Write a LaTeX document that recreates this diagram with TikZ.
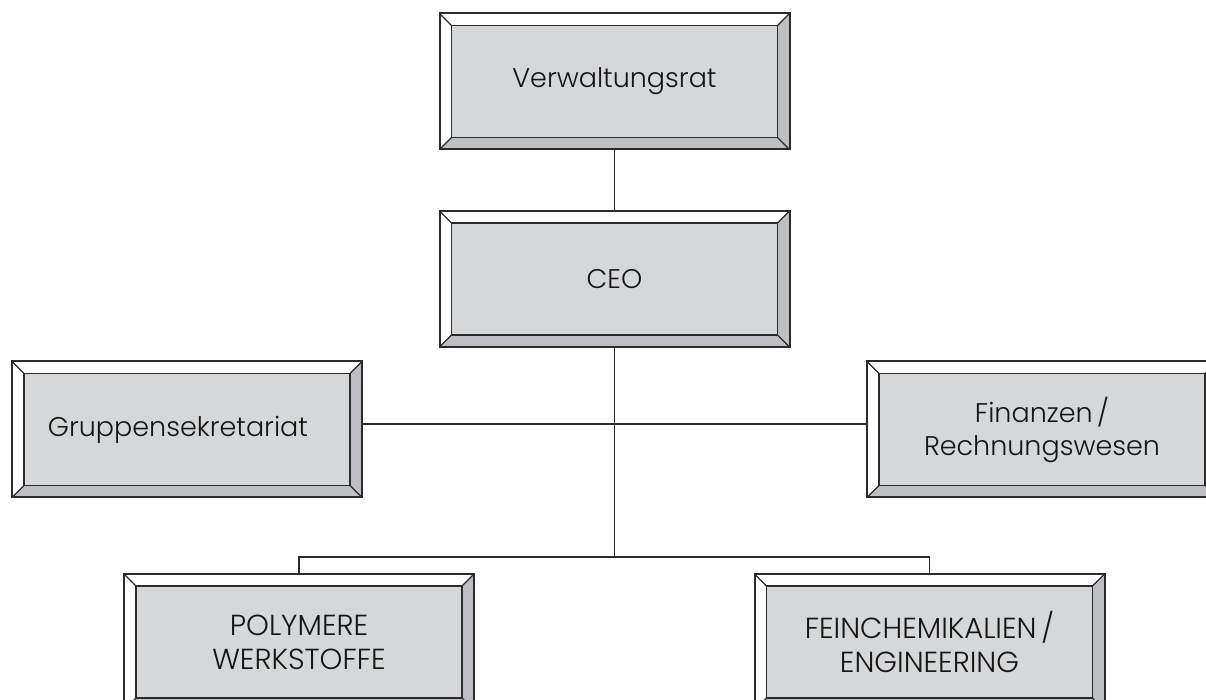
\documentclass[tikz,border=0pt]{standalone}
\usepackage{fontspec}
\setmainfont{Poppins}[UprightFont=* Light]
\definecolor{boxfill}{HTML}{D6D7D9}
\definecolor{bevdark}{HTML}{BEBFC2}
\definecolor{ink}{HTML}{2B2B2B}
\definecolor{txt}{HTML}{151515}
\tikzset{
  bevbox/.style={draw=ink, line width=2pt, fill=white,
    minimum width=350pt, minimum height=136pt, inner sep=0pt,
    align=center, font=\fontsize{27}{33}\selectfont, text=txt,
    path picture={
      \path (path picture bounding box.south west) coordinate (bsw)
            (path picture bounding box.north east) coordinate (bne)
            (bsw -| bne) coordinate (bse) (bsw |- bne) coordinate (bnw);
      \fill[bevdark] (bsw) -- (bse) -- (bne) -- ([shift={(-12,-12)}]bne)
        -- ([shift={(-12,12)}]bse) -- ([shift={(12,12)}]bsw) -- cycle;
      \draw[ink, line width=1.5pt, fill=boxfill]
        ([shift={(12,12)}]bsw) rectangle ([shift={(-12,-12)}]bne);
      \draw[ink, line width=1.2pt] (bsw) -- ++(12,12) (bse) -- ++(-12,12)
        (bne) -- ++(-12,-12) (bnw) -- ++(12,-12);
    }},
  capsbox/.style={bevbox, font=\fontsize{29}{34}\selectfont},
  conn/.style={draw=ink, line width=1.5pt}
}
\begin{document}
\begin{tikzpicture}[x=1pt,y=1pt]
\useasboundingbox (0,0) rectangle (1206,700);
\clip (0,0) rectangle (1206,700);
\node[bevbox] (vr) at (614.5,618.5) {Verwaltungsrat};
\node[bevbox] (ceo) at (614.5,421) {CEO};
\node[bevbox] (gs) at (187,270.5) {\hspace*{-18pt}Gruppensekretariat};
\node[bevbox] (fi) at (1042,270.5) {Finanzen\,/\\Rechnungswesen};
\node[capsbox] (po) at (299,58) {POLYMERE\\WERKSTOFFE};
\node[capsbox] (fe) at (929.5,58) {FEINCHEMIKALIEN\,/\\ENGINEERING};
\coordinate (j1) at (614.5,276);
\coordinate (j2) at (614.5,143);
\draw[conn] (vr.south) -- (ceo.north);
\draw[conn] (ceo.south) -- (j2);
\draw[conn] (j1 -| gs.east) -- (j1 -| fi.west);
\draw[conn] (po.north) |- (j2) -| (fe.north);
\end{tikzpicture}
\end{document}
